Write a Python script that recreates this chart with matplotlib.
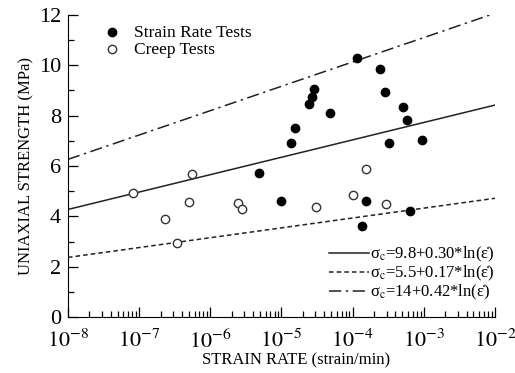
import matplotlib
matplotlib.use("Agg")
import matplotlib.pyplot as plt
import numpy as np

plt.rcParams['font.family'] = ['Liberation Serif', 'DejaVu Serif']
plt.rcParams['mathtext.fontset'] = 'stix'

# strain rate tests (strain/min, MPa)
rate_x = [1.16e-4, 2.42e-4, 2.89e-5, 2.68e-5, 2.45e-5, 2.88e-4, 4.8e-5, 5.1e-4,
          1.56e-5, 5.8e-4, 1.36e-5, 3.2e-4, 9.6e-4, 4.8e-6, 1.0e-5, 1.54e-4,
          6.4e-4, 1.36e-4]
rate_y = [10.3, 9.84, 9.05, 8.73, 8.45, 8.93, 8.12, 8.33,
          7.52, 7.83, 6.93, 6.93, 7.02, 5.72, 4.62, 4.62,
          4.21, 3.63]

# creep tests
creep_x = [8.1e-8, 2.3e-7, 4.96e-7, 5.6e-7, 2.42e-6, 2.8e-6, 3.46e-7,
           3.05e-5, 1.0e-4, 1.52e-4, 2.9e-4]
creep_y = [4.94, 3.89, 4.57, 5.69, 4.54, 4.29, 2.94,
           4.36, 4.85, 5.88, 4.49]

# fits sigma_c = a + b*ln(rate)
fit_a = [9.8, 5.5, 14]
fit_b = [0.30, 0.17, 0.42]
fit_lbl = ['\u03c3$_\\mathrm{c}$=9.8+0.30*ln(\u03b5\u0307)',
           '\u03c3$_\\mathrm{c}$=5.5+0.17*ln(\u03b5\u0307)',
           '\u03c3$_\\mathrm{c}$=14+0.42*ln(\u03b5\u0307)']
fit_ls = ['-', (0, (3, 2)), (0, (8, 3, 1.5, 3))]

fig = plt.figure(figsize=(5.15, 3.73), dpi=100)
ax = fig.add_axes([0.132, 0.150, 0.829, 0.810])

xs = np.logspace(-8, -2, 200)
lines = []
for a, b, lbl, ls in zip(fit_a, fit_b, fit_lbl, fit_ls):
    l, = ax.plot(xs, a + b*np.log(xs), color='#222222', lw=1.1, ls=ls, label=lbl)
    lines.append(l)

p1 = ax.scatter(rate_x, rate_y, s=36, color='black', zorder=3, label='Strain Rate Tests')
p2 = ax.scatter(creep_x, creep_y, s=36, facecolor='white', edgecolor='#333333',
                lw=1.0, zorder=3, label='Creep Tests')

ax.set_xscale('log')
ax.set_xlim(1e-8, 1e-2)
ax.set_ylim(0, 12)
ax.set_yticks([0, 2, 4, 6, 8, 10, 12])
ax.set_yticks([1, 3, 5, 7, 9, 11], minor=True)
ax.set_xticks([10.0**k for k in range(-8, -1)])
ax.set_xticklabels([r'$10^{%d}$' % k for k in range(-8, -1)])
ax.xaxis.set_minor_locator(matplotlib.ticker.LogLocator(base=10, subs=np.arange(2, 10), numticks=20))
ax.xaxis.set_minor_formatter(matplotlib.ticker.NullFormatter())

ax.tick_params(which='both', direction='in', labelsize=16, width=0.9)
ax.tick_params(which='major', length=7)
ax.tick_params(axis='x', which='major', pad=9)
ax.tick_params(axis='y', which='major', pad=5)
ax.tick_params(which='minor', length=4)
ax.spines['top'].set_visible(False)
ax.spines['right'].set_visible(False)

ax.set_xlabel('STRAIN RATE (strain/min)', fontsize=12, labelpad=0)
ax.xaxis.label.set_x(0.535)
ax.set_ylabel('UNIAXIAL STRENGTH (MPa)', fontsize=12, labelpad=3)

leg1 = ax.legend(handles=[p1, p2], loc='upper left', bbox_to_anchor=(0.025, 1.02),
                 frameon=False, fontsize=12.5, handletextpad=0.3, labelspacing=0.05,
                 scatterpoints=1)
ax.add_artist(leg1)
ax.legend(handles=lines, loc='lower right', bbox_to_anchor=(1.035, 0.0),
          frameon=False, fontsize=12, handlelength=2.4, handletextpad=0.1,
          labelspacing=-0.02)

fig.savefig('out.png', dpi=100)
